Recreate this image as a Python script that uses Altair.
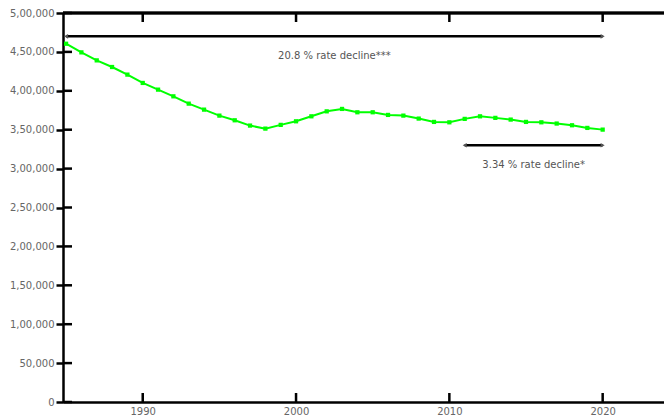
import altair as alt
import pandas as pd

# ---- data ----
years = list(range(1985, 2021))
values = [460500, 449400, 439100, 430600, 420800, 410100, 401500, 392900, 383500, 375800,
          368100, 362100, 355300, 351400, 356200, 360800, 367200, 373600, 376700, 372400,
          372400, 369000, 368100, 364300, 360000, 359500, 363900, 367200, 365200, 363000,
          360000, 359500, 357900, 355700, 352300, 350100]

x_tick_values = [1990, 2000, 2010, 2020]
x_tick_labels = ["1990", "2000", "2010", "2020"]
y_tick_values = [0, 50000, 100000, 150000, 200000, 250000, 300000, 350000, 400000, 450000, 500000]
y_tick_labels = ["0", "50,000", "1,00,000", "1,50,000", "2,00,000", "2,50,000",
                 "3,00,000", "3,50,000", "4,00,000", "4,50,000", "5,00,000"]

ann_start = [1985, 2011]
ann_end = [2020, 2020]
ann_level = [470000, 330000]
ann_text = ["20.8 % rate decline***", "3.34 % rate decline*"]

# ---- helpers ----
def label_expr(vals, labs):
    expr = "''"
    for v, l in reversed(list(zip(vals, labs))):
        expr = f"datum.value == {v} ? '{l}' : ({expr})"
    return expr

W, H = 601, 389
FONT = "DejaVu Sans"
LABEL_COLOR = "#666666"

xscale = alt.Scale(domain=[1984.8, 2024], nice=False, zero=False)
yscale = alt.Scale(domain=[0, 500000], nice=False, zero=False)

df = pd.DataFrame({"year": years, "value": values})
ann = pd.DataFrame({"start": ann_start, "end": ann_end, "level": ann_level, "text": ann_text,
                    "mid": [(a + b) / 2 for a, b in zip(ann_start, ann_end)]})
xt = pd.DataFrame({"t": x_tick_values})
yt = pd.DataFrame({"v": y_tick_values})

x_axis = alt.Axis(values=x_tick_values, labelExpr=label_expr(x_tick_values, x_tick_labels),
                  ticks=False, domainColor="black", domainWidth=2.5, labelColor=LABEL_COLOR,
                  labelFont=FONT, labelFontSize=10, labelPadding=4, title=None, grid=False,
                  labelFlush=False)
y_axis = alt.Axis(values=y_tick_values, labelExpr=label_expr(y_tick_values, y_tick_labels),
                  tickSize=7, tickWidth=2.5, tickColor="black", domainColor="black",
                  domainWidth=2.5, labelColor=LABEL_COLOR, labelFont=FONT, labelFontSize=10,
                  labelPadding=2, title=None, grid=False)


def X(field):
    return alt.X(field, scale=xscale, axis=x_axis)


def Y(field):
    return alt.Y(field, scale=yscale, axis=y_axis)


line = alt.Chart(df).mark_line(color="#00ff00", strokeWidth=2).encode(
    x=X("year:Q"), y=Y("value:Q"))
pts = alt.Chart(df).mark_square(color="#00ff00", size=18, opacity=1).encode(
    x=X("year:Q"), y=Y("value:Q"))

ann_rule = alt.Chart(ann).mark_rule(color="black", strokeWidth=2.5).encode(
    x=X("start:Q"), x2="end:Q", y=Y("level:Q"))
cap_l = alt.Chart(ann).mark_point(shape="triangle-left", filled=True, color="#555555",
                                  size=22, opacity=1).encode(x=X("start:Q"), y=Y("level:Q"))
cap_r = alt.Chart(ann).mark_point(shape="triangle-right", filled=True, color="#555555",
                                  size=22, opacity=1).encode(x=X("end:Q"), y=Y("level:Q"))
ann_txt = alt.Chart(ann).mark_text(font=FONT, fontSize=10, color="#555555", dy=20,
                                   baseline="middle", align="center").encode(
    x=X("mid:Q"), y=Y("level:Q"), text="text:N")

tick_bottom = alt.Chart(xt).mark_rule(color="black", strokeWidth=2.5).encode(
    x=X("t:Q"), y=alt.value(H), y2=alt.value(H - 9))
tick_top = alt.Chart(xt).mark_rule(color="black", strokeWidth=2.5).encode(
    x=X("t:Q"), y=alt.value(0), y2=alt.value(9))
tick_left = alt.Chart(yt).mark_rule(color="black", strokeWidth=2.5).encode(
    y=Y("v:Q"), x=alt.value(0), x2=alt.value(9))
top_border = alt.Chart(xt).mark_rule(color="black", strokeWidth=2.5).encode(
    x=alt.value(0), x2=alt.value(W), y=alt.value(0))

chart = alt.layer(
    line, pts, ann_rule, cap_l, cap_r, ann_txt, tick_bottom, tick_top, tick_left, top_border
).properties(
    width=W, height=H,
    autosize=alt.AutoSizeParams(type="none"),
    padding={"left": 63, "top": 13, "right": 0, "bottom": 15},
).configure_view(stroke=None).configure(background="white")

chart.save("out.html", embed_options={"renderer": "svg", "actions": False})
